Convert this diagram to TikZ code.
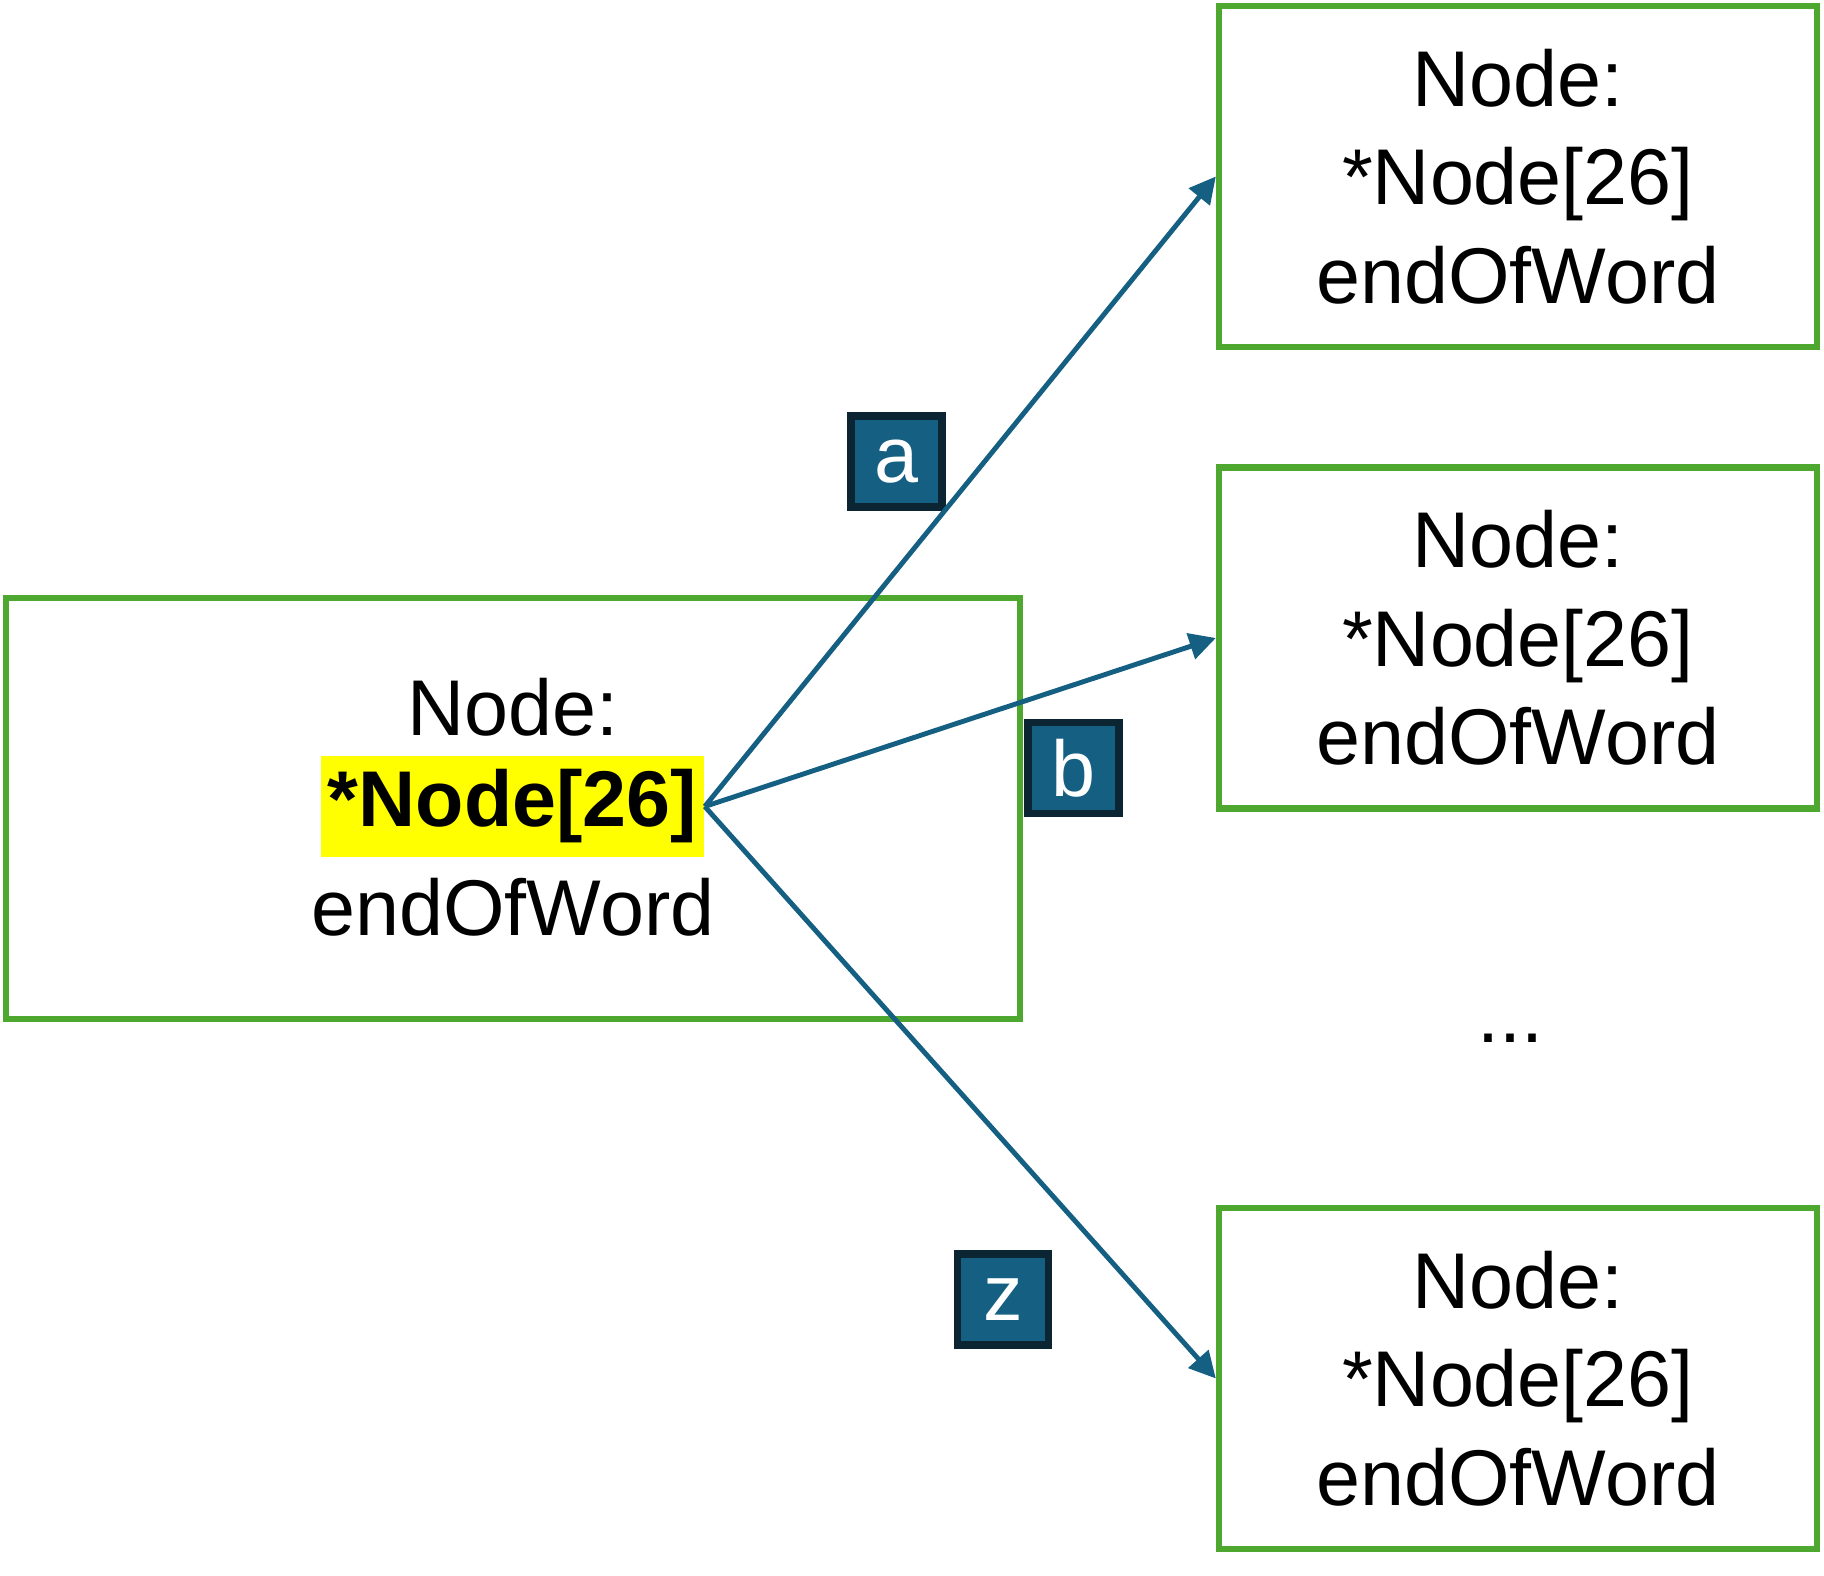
\documentclass[tikz,border=0pt]{standalone}
\usepackage{fontspec}
\setmainfont{Liberation Sans}
\usetikzlibrary{positioning,arrows.meta}
\definecolor{trieVerde}{HTML}{4EA72E}
\definecolor{trieAzul}{HTML}{156082}
\definecolor{trieOscuro}{HTML}{0B2533}
\definecolor{trieAmarillo}{HTML}{FFFF00}
\tikzset{
  nodo/.style={rectangle, draw=trieVerde, line width=1.8pt,
    align=center, font=\fontsize{22.5}{28}\selectfont},
  texto/.style={font=\fontsize{22.5}{28}\selectfont, inner sep=0pt},
  puntero/.style={rectangle, fill=trieAmarillo, inner xsep=2pt, inner ysep=0pt,
    minimum height=1.01cm, font=\fontsize{22.5}{28}\selectfont\bfseries},
  etiqueta/.style={rectangle, draw=trieOscuro, line width=2.2pt, fill=trieAzul,
    text=white, minimum width=0.91cm, minimum height=0.91cm, inner sep=0pt,
    font=\fontsize{22.5}{28}\selectfont},
  flechaHijo/.style={-{Triangle[length=7.5pt,width=7.5pt]}, line width=1.4pt, trieAzul},
}
\begin{document}
\begin{tikzpicture}
    \useasboundingbox (0,0) rectangle (18.24,15.76);
    \node[nodo, minimum width=10.14cm, minimum height=4.21cm] (raiz) at (5.13,7.675) {};
    \node[texto] (raizTit) at (5.13,8.69) {Node:};
    \node[puntero] (ptr) at (5.125,7.695) {*Node[26]};
    \node[texto] (raizFin) at (5.13,6.69) {endOfWord};

    \node[nodo, minimum width=5.98cm, minimum height=3.41cm] (hijoA) at (15.18,13.995) {Node:\\*Node[26]\\endOfWord};
    \node[nodo, minimum width=5.98cm, minimum height=3.41cm] (hijoB) at (15.18,9.38)   {Node:\\*Node[26]\\endOfWord};
    \node[texto] (puntos) at (15.10,5.38) {...};
    \node[nodo, minimum width=5.98cm, minimum height=3.41cm] (hijoZ) at (15.18,1.975)  {Node:\\*Node[26]\\endOfWord};

    \node[etiqueta] (letraA) at (8.965,11.145) {a};
    \node[etiqueta] (letraB) at (10.735,8.08)  {b};
    \node[etiqueta] (letraZ) at (10.03,2.765)  {z};

    \draw[flechaHijo] (ptr.east) -- (hijoA.west);
    \draw[flechaHijo] (ptr.east) -- (hijoB.west);
    \draw[flechaHijo] (ptr.east) -- (hijoZ.west);
\end{tikzpicture}
\end{document}
